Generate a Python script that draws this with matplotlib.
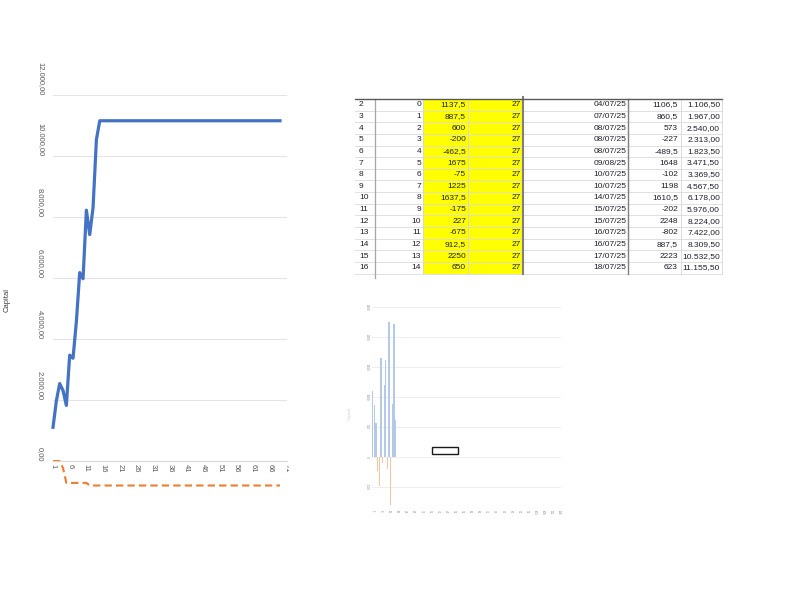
import matplotlib
matplotlib.use("Agg")
from matplotlib import pyplot as plt
from matplotlib.patches import Rectangle
from matplotlib.transforms import Bbox
import numpy as np

plt.rcParams['font.family'] = ['Liberation Sans', 'DejaVu Sans']

#%% DATA

# capital curve (left chart) - 15 trades then flat
capital = [1106.5, 1967.0, 2540.0, 2313.0, 1823.5, 3471.5, 3369.5, 4567.5,
           6178.0, 5976.0, 8224.0, 7422.0, 8309.5, 10532.5, 11155.5]
capital_flat = [11155.5] * 54
# max drawdown (orange dashed)
drawdown = [0, 0, 0, -227, -716.5, -716.5, -716.5, -716.5, -716.5, -716.5,
            -716.5, -802, -802, -802, -802]
drawdown_flat = [-802] * 54

# table rows
row_ids = list(range(2, 17))
trade_no = list(range(0, 15))
gross = ["1137,5", "887,5", "600", "-200", "-462,5", "1675", "-75", "1225",
         "1637,5", "-175", "227", "-675", "912,5", "2250", "650"]
lots = ["27"] * 15
dates = ["04/07/25", "07/07/25", "08/07/25", "08/07/25", "08/07/25", "09/08/25",
         "10/07/25", "10/07/25", "14/07/25", "15/07/25", "15/07/25", "16/07/25",
         "16/07/25", "17/07/25", "18/07/25"]
net = [1106.5, 860.5, 573, -227, -489.5, 1648, -102, 1198, 1610.5, -202,
       2248, -802, 887.5, 2223, 623]
cum = ["1.106,50", "1.967,00", "2.540,00", "2.313,00", "1.823,50", "3.471,50",
       "3.369,50", "4.567,50", "6.178,00", "5.976,00", "8.224,00", "7.422,00",
       "8.309,50", "10.532,50", "11.155,50"]

n_small = 116  # categories on the small bar chart


def eu(v, dec=2):
    s = f"{v:,.{dec}f}"
    return s.replace(",", "X").replace(".", ",").replace("X", ".")


def eu_short(v):
    s = f"{v:g}"
    return s.replace(".", ",")


fig = plt.figure(figsize=(8, 6), dpi=100)

#%% overlay in pixel coords (table, annotations)
ov = fig.add_axes([0, 0, 1, 1], zorder=0)
ov.set_xlim(0, 800)
ov.set_ylim(600, 0)
ov.axis("off")

#%% left chart
ax = fig.add_axes([53/800, 111.5/600, 234/800, 393.5/600], zorder=2)
ax.patch.set_alpha(0)
for s in ['top', 'right', 'left']:
    ax.spines[s].set_visible(False)
ax.spines['bottom'].set_position(('data', 0))
ax.spines['bottom'].set_color('#D9D9D9')
ax.spines['bottom'].set_linewidth(0.8)

y_cap = capital + capital_flat
y_dd = drawdown + drawdown_flat
x = np.arange(1, len(y_cap) + 1)
ax.plot(x, y_cap, color='#4472C4', lw=2.3, clip_on=False)
ax.plot(x, y_dd, color='#ED7D31', lw=1.5, linestyle=(0, (3.5, 2)), clip_on=False)
ax.set_xlim(1, 71.1)
ax.set_ylim(-900, 12000)
yt = np.arange(0, 12001, 2000)
ax.set_yticks(yt)
ax.set_yticklabels([eu(v) for v in yt], rotation=-90, va='bottom', ha='center',
                   fontsize=5.5, color='#595959')
ax.tick_params(axis='y', length=0, pad=9)
xt = np.arange(1, 72, 5)
ax.set_xticks(xt)
xl = ax.set_xticklabels([str(v) for v in xt], rotation=-90, va='top', ha='center',
                        fontsize=5.5, color='#595959')
ax.tick_params(axis='x', length=0, pad=2)
ax.grid(axis='y', color='#E4E4E4', lw=0.8)
ax.set_axisbelow(True)
# last label is cut at the image edge
clip = Bbox.from_extents(0, 0, 289, 600)
xl[-1].set_clip_box(clip)
xl[-1].set_clip_on(True)
ov.text(7, 300, "Capital", rotation=90, ha='center', va='center', fontsize=5.5,
        color='#404040')

#%% table
row_top = 99
row_h = 11.64
n_rows = len(row_ids)
bottom = row_top + n_rows * row_h
for i in range(n_rows):
    y0 = row_top + i * row_h
    ov.add_patch(Rectangle((423, y0), 522 - 423, row_h, facecolor='#FFFF00',
                           edgecolor='none', zorder=1))
    ov.plot([355, 722], [y0 + row_h, y0 + row_h], color='#DADADA', lw=0.6, zorder=2)
for xe in [375, 423, 468, 681, 722]:
    ov.plot([xe, xe], [row_top, bottom], color='#D6D6D6', lw=0.6, zorder=2)
ov.plot([375, 375], [row_top, bottom + 4], color='#A6A6A6', lw=0.9, zorder=3)
ov.plot([522.5, 522.5], [row_top - 2, bottom], color='#7F7F7F', lw=1.5, zorder=3)
ov.plot([628, 628], [row_top, bottom], color='#7F7F7F', lw=1.0, zorder=3)
ov.plot([355, 722], [row_top, row_top], color='#595959', lw=1.0, zorder=3)

tkw = dict(fontsize=6, va='center', color='#1F1F2F', zorder=4)
for i in range(n_rows):
    yc = row_top + (i + 0.5) * row_h
    ov.text(359, yc, str(row_ids[i]), ha='left', **tkw)
    ov.text(421, yc, str(trade_no[i]), ha='right', **tkw)
    ov.text(466, yc, gross[i], ha='right', **tkw)
    ov.text(521, yc, lots[i], ha='right', **tkw)
    ov.text(626, yc, dates[i], ha='right', **tkw)
    ov.text(678, yc, eu_short(net[i]), ha='right', **tkw)
    ov.text(720, yc, cum[i], ha='right', **tkw)

#%% small bar chart (lower right)
ax2 = fig.add_axes([372/800, (600 - 507)/600, 188/800, 200/600], zorder=2)
ax2.patch.set_alpha(0)
for s in ax2.spines.values():
    s.set_visible(False)
ax2.set_xlim(0.5, n_small + 0.5)
ax2.set_ylim(-835, 2500)
xs = np.arange(1, len(net) + 1)
pos = [v if v > 0 else 0 for v in net]
neg = [v if v < 0 else 0 for v in net]
ax2.bar(xs, pos, width=0.8, color='#B4C8EA', lw=0, clip_on=False)
ax2.bar(xs, neg, width=0.8, color='#F5C2A2', lw=0, clip_on=False)
grid_vals = np.arange(-500, 2501, 500)
for g in grid_vals:
    ax2.axhline(g, color='#EBEBEB', lw=0.6, zorder=0, clip_on=False)
ax2.set_yticks(grid_vals)
ax2.set_yticklabels([str(v) for v in grid_vals], rotation=-90,
                    fontsize=2.2, color='#8C8C8C', va='center', ha='center')
ax2.tick_params(axis='y', length=0, pad=4)
xt2 = np.arange(1, n_small + 1, 5)
ax2.set_xticks(xt2)
ax2.set_xticklabels([str(v) for v in xt2], rotation=-90, fontsize=2.2,
                    color='#8C8C8C', va='top', ha='center')
ax2.tick_params(axis='x', length=0, pad=2)
ov.text(350, 414, "Capital", rotation=90, ha='center', va='center', fontsize=3,
        color='#D0D0D0')
ov.add_patch(Rectangle((432, 447), 26, 7, facecolor='white', edgecolor='#1A1A1A',
                       lw=1.0, zorder=5))

plt.savefig("out.png", dpi=100)
